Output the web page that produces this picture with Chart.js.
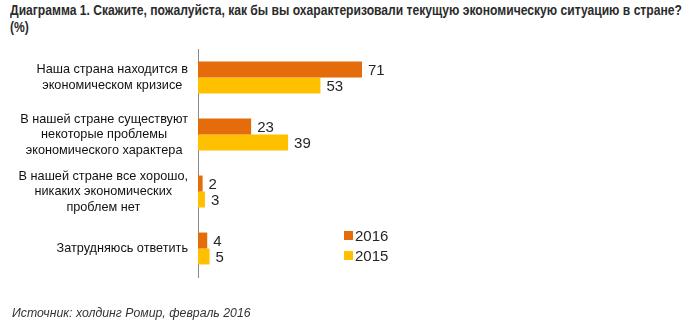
<!DOCTYPE html>
<html><head><meta charset="utf-8">
<script src="https://cdn.jsdelivr.net/npm/chart.js@4"></script>
<style>
html,body{margin:0;padding:0;background:#fff;width:690px;height:334px;overflow:hidden;}
#wrap{position:relative;width:690px;height:334px;}
#title{position:absolute;left:10px;top:2px;font:bold 14px "Liberation Sans",Arial,sans-serif;color:#2b2b2b;line-height:17px;white-space:nowrap;transform:scaleX(0.865);transform-origin:0 0;}
#src{position:absolute;left:12px;top:306px;font:italic 12.3px "Liberation Sans",Arial,sans-serif;color:#333;}
canvas{position:absolute;left:0;top:0;}
</style></head><body>
<div id="wrap">
<div id="title">Диаграмма 1. Скажите, пожалуйста, как бы вы охарактеризовали текущую экономическую ситуацию в стране?<br>(%)</div>
<canvas id="c" width="690" height="334"></canvas>
<div id="src">Источник: холдинг Ромир, февраль 2016</div>
</div>
<script>
const categories = [
  ["Наша страна находится в", "экономическом кризисе"],
  ["В нашей стране существуют", "некоторые проблемы", "экономического характера"],
  ["В нашей стране все хорошо,", "никаких экономических", "проблем нет"],
  ["Затрудняюсь ответить"]
];
const seriesNames = ["2016", "2015"];
const values2016 = [71, 23, 2, 4];
const values2015 = [53, 39, 3, 5];
const colors = ["#E46C0A", "#FFC000"];

const labelPlugin = {
  id: 'customDraw',
  afterDatasetsDraw(chart) {
    const ctx = chart.ctx;
    ctx.save();
    ctx.font = '15px "Liberation Sans", Arial, sans-serif';
    ctx.fillStyle = '#262626';
    ctx.textAlign = 'left';
    ctx.textBaseline = 'middle';
    chart.data.datasets.forEach((ds, di) => {
      chart.getDatasetMeta(di).data.forEach((el, i) => {
        ctx.fillText(String(ds.data[i]), el.x + 6, el.y + 1);
      });
    });
    const ys = chart.scales.y;
    ctx.font = '12.7px "Liberation Sans", Arial, sans-serif';
    ctx.fillStyle = '#111';
    ctx.textAlign = 'center';
    const right = chart.chartArea.left - 10;
    const lh = 15.5;
    categories.forEach((lines, i) => {
      const yc = ys.getPixelForTick(i);
      const w = Math.max(...lines.map(l => ctx.measureText(l).width));
      const cx = right - w / 2;
      const y0 = yc - (lines.length - 1) * lh / 2;
      lines.forEach((l, k) => ctx.fillText(l, cx, y0 + k * lh));
    });
    ctx.font = '15px "Liberation Sans", Arial, sans-serif';
    ctx.textAlign = 'left';
    chart.data.datasets.forEach((ds, di) => {
      const y = 236 + di * 20;
      ctx.fillStyle = ds.backgroundColor;
      ctx.fillRect(344, y - 5, 9, 9);
      ctx.fillStyle = '#262626';
      ctx.fillText(ds.label, 355, y + 1);
    });
    ctx.restore();
  }
};

new Chart(document.getElementById('c'), {
  type: 'bar',
  data: {
    labels: categories,
    datasets: [
      { label: seriesNames[0], data: values2016, backgroundColor: colors[0] },
      { label: seriesNames[1], data: values2015, backgroundColor: colors[1] }
    ]
  },
  options: {
    indexAxis: 'y',
    responsive: false,
    animation: false,
    events: [],
    categoryPercentage: 0.56,
    barPercentage: 1,
    layout: { padding: { left: 198, top: 49, bottom: 57, right: 261 } },
    plugins: { legend: { display: false }, tooltip: { enabled: false }, title: { display: false } },
    scales: {
      x: { display: false, min: 0, max: 100 },
      y: {
        display: true,
        grid: { display: false, drawTicks: false },
        ticks: { display: false },
        border: { display: true, color: '#8a8a8a', width: 1 },
        afterFit(s) { s.width = 0; }
      }
    }
  },
  plugins: [labelPlugin]
});
</script>
</body></html>
